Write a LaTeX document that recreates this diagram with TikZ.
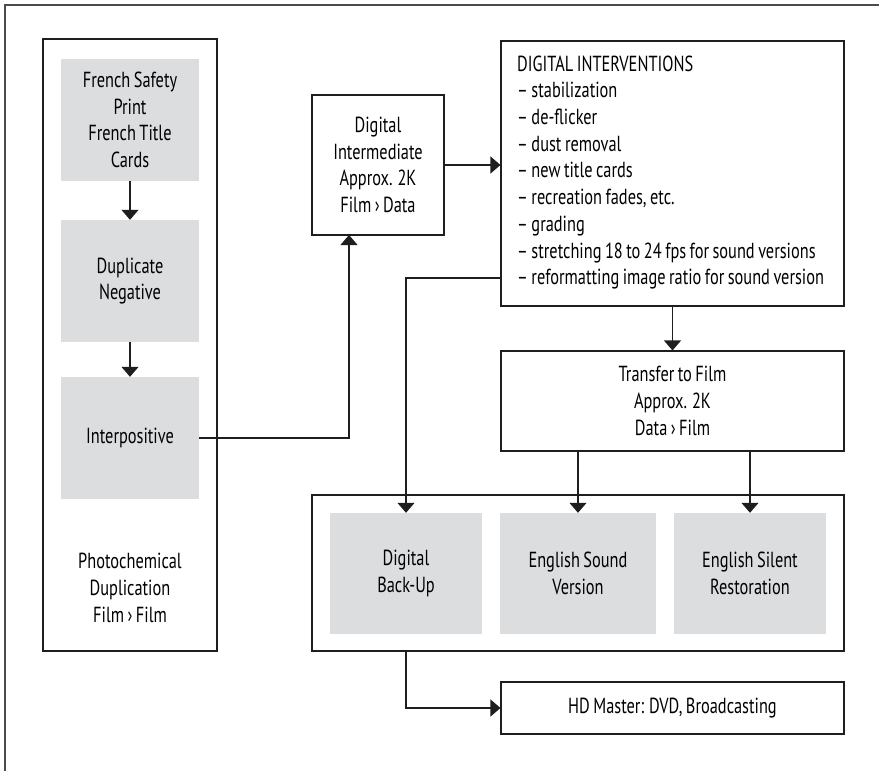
\documentclass[tikz,border=0pt]{standalone}
\usepackage{fontspec}
\setmainfont{PT Sans}[FakeStretch=0.75,WordSpace=0.8]
\usetikzlibrary{arrows.meta,calc}
\definecolor{boxgray}{HTML}{DCDDDF}
\definecolor{linecol}{HTML}{1E1E1E}
\tikzset{
  base/.style={inner sep=0pt, align=center, font=\fontsize{21.8}{26.7}\selectfont},
  gbox/.style={base, fill=boxgray, draw=none},
  wbox/.style={base, draw=linecol, line width=1.1pt, fill=white},
  arr/.style={draw=linecol, line width=1.1pt, -{Triangle[width=17pt,length=10pt]}},
}
\begin{document}
\begin{tikzpicture}[x=1pt,y=-1pt]
\useasboundingbox (0,0) rectangle (879,771);
% outer frame (top and left only visible)
\draw[draw=black!70, line width=1.2pt] (5,771) -- (5,5) -- (879,5);

% left container
\node[wbox, minimum width=174pt, minimum height=612pt] (left) at (130,345) {};
\node[gbox, minimum width=138pt, minimum height=122pt] (fsp) at (130,120) {French Safety\\Print\\French Title\\Cards};
\node[gbox, minimum width=138pt, minimum height=122pt] (dup) at (130,281) {Duplicate\\Negative};
\node[gbox, minimum width=138pt, minimum height=122pt] (inter) at (130,438) {Interpositive};
\node[base] (photo) at (130,588) {Photochemical\\Duplication\\Film › Film};

% digital intermediate
\node[wbox, minimum width=132pt, minimum height=140pt] (di) at (378,165) {Digital\\Intermediate\\Approx. 2K\\Film › Data};

% digital interventions
\node[wbox, minimum width=343pt, minimum height=265pt] (dint) at (672.5,173.5) {};
\node[base, align=left, anchor=west] (dinttext) at (517,172.5) {DIGITAL INTERVENTIONS\\
– stabilization\\
– de-flicker\\
– dust removal\\
– new title cards\\
– recreation fades, etc.\\
– grading\\
– stretching 18 to 24 fps for sound versions\\
– reformatting image ratio for sound version};

% transfer
\node[wbox, minimum width=343pt, minimum height=100pt] (transfer) at (672.5,401) {Transfer to Film\\Approx. 2K\\Data › Film};

% bottom container
\node[wbox, minimum width=532pt, minimum height=156pt] (bottom) at (578,573) {};
\node[gbox, minimum width=152pt, minimum height=121pt] (backup) at (406,573.5) {Digital\\Back-Up};
\node[gbox, minimum width=156pt, minimum height=121pt] (sound) at (578,573.5) {English Sound\\Version};
\node[gbox, minimum width=152pt, minimum height=121pt] (silent) at (750,573.5) {English Silent\\Restoration};

% HD
\node[wbox, minimum width=343pt, minimum height=52pt] (hd) at (672.5,708) {HD Master: DVD, Broadcasting};

% connectors
\coordinate (diin) at (349,235);
\coordinate (dintout) at (501,278);
\draw[arr] (fsp.south) -- (dup.north);
\draw[arr] (dup.south) -- (inter.north);
\draw[arr] (inter.east) -| (diin);
\draw[arr] (di.east) -- (di.east -| dint.west);
\draw[arr] (dintout) -| (backup.north);
\draw[arr] (dint.south) -- (transfer.north);
\draw[arr] (sound.north |- transfer.south) -- (sound.north);
\draw[arr] (silent.north |- transfer.south) -- (silent.north);
\draw[arr] (backup.south |- bottom.south) |- (hd.west);
\end{tikzpicture}
\end{document}
